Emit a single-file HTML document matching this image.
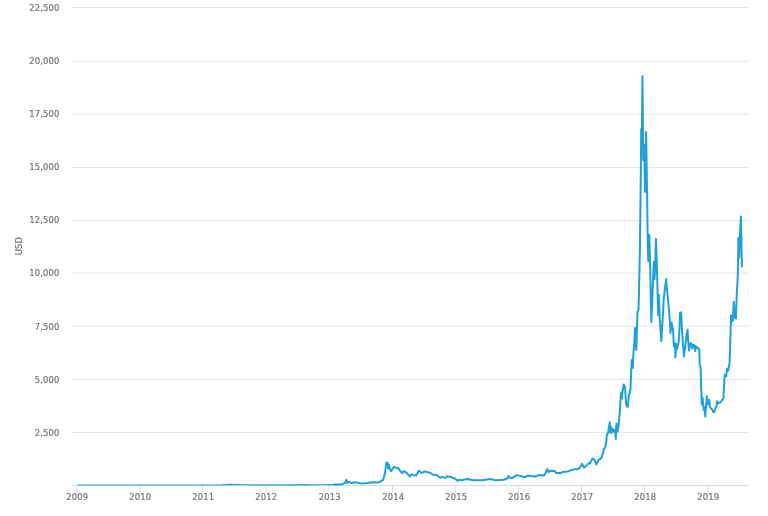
<!DOCTYPE html><html><head><meta charset="utf-8"><title>Chart</title><style>html,body{margin:0;padding:0;background:#fff;overflow:hidden;}svg{display:block;}text{font-family:"DejaVu Sans","Liberation Sans",sans-serif;font-size:8.4px;fill:#737373;stroke:#737373;stroke-width:0.2px;letter-spacing:0.15px;}</style></head><body>
<svg width="768" height="516" viewBox="0 0 768 516">
<defs><filter id="tb" x="-2%" y="-2%" width="104%" height="104%" color-interpolation-filters="sRGB"><feGaussianBlur stdDeviation="0.45"/></filter></defs>
<rect width="768" height="516" fill="#fff"/>
<g>
<line x1="71" x2="749" y1="7.5" y2="7.5" stroke="#e6e6e6" stroke-width="1"/>
<line x1="71" x2="749" y1="61.3" y2="61.3" stroke="#e6e6e6" stroke-width="1"/>
<line x1="71" x2="749" y1="114.3" y2="114.3" stroke="#e6e6e6" stroke-width="1"/>
<line x1="71" x2="749" y1="167.45" y2="167.45" stroke="#e6e6e6" stroke-width="1"/>
<line x1="71" x2="749" y1="220.45" y2="220.45" stroke="#e6e6e6" stroke-width="1"/>
<line x1="71" x2="749" y1="273.0" y2="273.0" stroke="#e6e6e6" stroke-width="1"/>
<line x1="71" x2="749" y1="326.2" y2="326.2" stroke="#e6e6e6" stroke-width="1"/>
<line x1="71" x2="749" y1="379.45" y2="379.45" stroke="#e6e6e6" stroke-width="1"/>
<line x1="71" x2="749" y1="432.45" y2="432.45" stroke="#e6e6e6" stroke-width="1"/>
<line x1="71" x2="749" y1="485.5" y2="485.5" stroke="#d3dde8" stroke-width="1"/>
<line x1="76.5" x2="76.5" y1="485" y2="493" stroke="#d3dde8" stroke-width="1"/>
<line x1="139.5" x2="139.5" y1="485" y2="493" stroke="#d3dde8" stroke-width="1"/>
<line x1="202.5" x2="202.5" y1="485" y2="493" stroke="#d3dde8" stroke-width="1"/>
<line x1="265.5" x2="265.5" y1="485" y2="493" stroke="#d3dde8" stroke-width="1"/>
<line x1="329.0" x2="329.0" y1="485" y2="493" stroke="#d3dde8" stroke-width="1"/>
<line x1="392.5" x2="392.5" y1="485" y2="493" stroke="#d3dde8" stroke-width="1"/>
<line x1="455.5" x2="455.5" y1="485" y2="493" stroke="#d3dde8" stroke-width="1"/>
<line x1="518.5" x2="518.5" y1="485" y2="493" stroke="#d3dde8" stroke-width="1"/>
<line x1="581.5" x2="581.5" y1="485" y2="493" stroke="#d3dde8" stroke-width="1"/>
<line x1="644.5" x2="644.5" y1="485" y2="493" stroke="#d3dde8" stroke-width="1"/>
<line x1="707.5" x2="707.5" y1="485" y2="493" stroke="#d3dde8" stroke-width="1"/>
</g>
<g filter="url(#tb)">
<text x="59.4" y="10.90" text-anchor="end">22,500</text>
<text x="59.4" y="64.01" text-anchor="end">20,000</text>
<text x="59.4" y="117.12" text-anchor="end">17,500</text>
<text x="59.4" y="170.23" text-anchor="end">15,000</text>
<text x="59.4" y="223.34" text-anchor="end">12,500</text>
<text x="59.4" y="276.45" text-anchor="end">10,000</text>
<text x="59.4" y="329.57" text-anchor="end">7,500</text>
<text x="59.4" y="382.68" text-anchor="end">5,000</text>
<text x="59.4" y="435.79" text-anchor="end">2,500</text>
<text x="77.2" y="499.6" text-anchor="middle">2009</text>
<text x="140.2" y="499.6" text-anchor="middle">2010</text>
<text x="203.2" y="499.6" text-anchor="middle">2011</text>
<text x="266.2" y="499.6" text-anchor="middle">2012</text>
<text x="329.7" y="499.6" text-anchor="middle">2013</text>
<text x="393.2" y="499.6" text-anchor="middle">2014</text>
<text x="456.2" y="499.6" text-anchor="middle">2015</text>
<text x="519.2" y="499.6" text-anchor="middle">2016</text>
<text x="582.2" y="499.6" text-anchor="middle">2017</text>
<text x="645.2" y="499.6" text-anchor="middle">2018</text>
<text x="708.2" y="499.6" text-anchor="middle">2019</text>
<text x="22.0" y="246" text-anchor="middle" transform="rotate(-90 22.0 246)">USD</text>
</g>
<path d="M77.36 485.00 L173.60 485.00 L192.95 484.99 L209.54 484.98 L221.46 484.97 L230.97 484.38 L232.87 484.62 L237.19 484.70 L242.54 484.77 L253.08 484.95 L260.34 484.94 L267.25 484.85 L276.06 484.89 L291.96 484.88 L305.26 484.72 L307.85 484.79 L323.58 484.75 L328.93 484.71 L334.29 484.58" fill="none" stroke="#1fa1d8" stroke-width="1.2" stroke-linejoin="round" stroke-linecap="butt"/>
<path d="M334.29 484.58 L340.50 484.50 L343.00 484.00 L345.00 482.80 L346.40 479.80 L347.30 483.00 L349.30 481.80 L351.20 483.00 L354.75 482.20 L358.70 483.00 L361.80 483.50 L367.25 483.00 L371.90 482.20 L378.20 482.40 L379.40 482.20 L381.30 480.80 L382.90 480.20 L384.00 477.10 L385.20 471.60 L386.40 462.60 L387.60 463.00 L388.20 468.50 L389.10 464.60 L389.90 469.30 L391.10 471.20 L393.80 466.90 L396.00 467.70 L398.10 468.10 L401.90 473.10 L403.75 471.25 L406.25 472.50 L410.00 476.50 L411.25 474.40 L416.00 475.60 L419.10 470.60 L421.60 473.10 L424.75 471.50 L427.90 472.25 L431.00 473.10 L432.25 474.40 L436.60 475.00 L440.40 477.75 L442.25 476.90 L445.40 477.90 L447.00 476.25 L451.00 477.10 L454.75 478.50 L457.90 480.90 L459.10 479.75 L461.00 480.25 L467.25 479.00 L473.50 480.25 L482.25 480.25 L489.75 479.00 L496.00 480.25 L503.50 479.75 L507.25 478.50 L508.50 476.00 L509.75 477.75 L512.00 478.10 L516.70 475.10 L520.10 475.90 L524.80 477.30 L527.70 475.70 L535.30 476.50 L538.80 475.10 L544.00 475.60 L545.80 472.40 L547.30 469.00 L548.30 472.10 L549.80 470.70 L554.50 470.90 L556.20 473.00 L560.90 473.00 L562.60 471.90 L567.90 471.60 L570.80 470.10 L575.10 469.20 L576.70 469.30 L579.40 468.20 L582.10 463.75 L584.00 467.80 L586.30 465.80 L588.30 463.30 L589.80 463.50 L592.50 458.60 L594.50 459.60 L596.40 464.50 L598.70 459.60 L600.30 459.30 L601.80 456.90 L603.00 453.00 L603.80 448.70 L605.10 447.80 L606.40 441.00 L606.80 435.00 L608.10 432.90 L608.95 426.50 L609.80 422.20 L610.20 432.50 L611.10 426.90 L611.90 432.90 L612.80 429.00 L614.10 431.60 L614.90 429.90 L615.80 438.90 L616.40 423.50 L617.50 431.60 L618.30 427.30 L619.20 418.80 L619.80 412.10 L620.70 397.60 L621.10 392.50 L622.00 398.40 L622.40 392.50 L623.70 384.40 L625.00 386.90 L626.20 404.40 L627.10 407.00 L627.90 406.10 L628.80 395.00 L629.60 393.30 L630.50 389.00 L631.00 376.00 L631.80 360.00 L632.80 368.00 L633.30 355.00 L634.50 340.00 L635.00 328.00 L636.30 350.00 L637.00 327.00 L637.50 311.00 L638.50 310.00 L638.90 296.00 L639.90 250.00 L640.50 200.00 L640.80 175.00 L641.20 129.00 L641.80 140.00 L642.50 76.00 L643.20 160.00 L644.20 145.00 L645.00 192.00 L646.10 132.00 L647.20 200.00 L647.50 226.00 L648.20 261.00 L649.30 235.00 L650.20 268.00 L651.30 322.00 L653.80 262.00 L654.60 279.00 L656.00 239.00 L657.00 270.00 L657.60 293.00 L658.10 315.00 L658.90 295.00 L659.70 318.00 L661.30 341.00 L662.80 317.00 L663.70 299.00 L665.10 287.40 L666.10 279.00 L667.50 295.00 L669.00 310.00 L670.00 322.60 L670.50 333.00 L671.50 322.60 L673.00 329.40 L673.90 346.80 L674.90 343.00 L675.40 357.40 L676.30 343.90 L677.30 348.70 L678.70 342.00 L679.50 329.00 L680.10 312.80 L681.20 312.20 L681.80 326.70 L683.00 344.20 L683.90 356.40 L685.30 346.50 L686.50 334.90 L687.60 329.70 L688.20 340.70 L689.00 350.60 L690.50 343.00 L691.70 344.20 L692.30 348.80 L693.40 344.80 L694.60 345.30 L695.20 351.20 L696.30 346.50 L697.70 348.10 L699.20 349.00 L699.70 365.00 L700.60 367.00 L701.10 386.00 L701.30 391.60 L701.80 404.80 L702.60 397.80 L703.40 405.60 L703.75 410.20 L704.50 407.10 L705.30 416.40 L706.10 405.60 L706.85 396.30 L707.50 404.80 L708.40 403.30 L709.30 399.80 L710.00 407.10 L711.50 409.10 L712.70 410.20 L713.05 411.80 L714.20 412.20 L715.00 409.50 L715.40 407.90 L716.50 406.70 L716.90 401.30 L718.10 403.30 L720.00 402.50 L721.60 400.90 L722.70 399.40 L723.50 398.20 L723.90 387.80 L724.50 378.00 L724.70 374.50 L726.20 376.50 L727.10 368.70 L728.10 370.70 L729.60 362.90 L730.00 349.40 L730.50 334.80 L731.10 315.30 L732.70 321.30 L733.80 301.70 L734.90 318.00 L735.90 318.50 L736.80 292.00 L737.60 280.00 L738.10 262.00 L738.40 238.00 L739.20 257.70 L739.80 235.60 L741.00 216.40 L741.90 266.40" fill="none" stroke="#1fa1d8" stroke-width="2.0" stroke-linejoin="round" stroke-linecap="round"/>
</svg></body></html>
